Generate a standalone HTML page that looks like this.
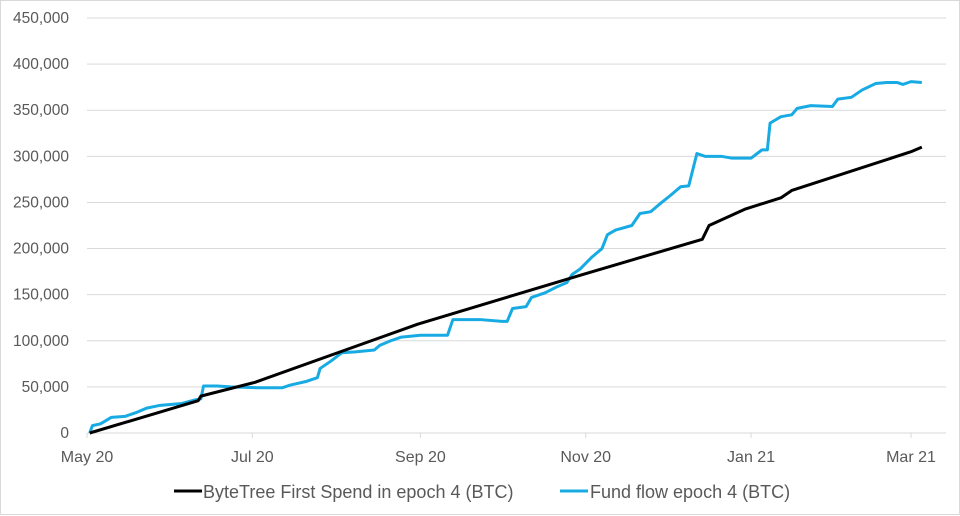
<!DOCTYPE html>
<html><head><meta charset="utf-8"><style>
html,body{margin:0;padding:0;background:#fff;}
#wrap{position:relative;width:958px;height:513px;border:1px solid #d9d9d9;}
svg{position:absolute;left:0;top:0;}
text{font-family:"Liberation Sans",sans-serif;fill:#595959;}
</style></head><body>
<div id="wrap">
<svg id="chart" width="960" height="515"></svg>
</div>
<script>
const yTicks = [0,50000,100000,150000,200000,250000,300000,350000,400000,450000];
const xTickLabels = ["May 20","Jul 20","Sep 20","Nov 20","Jan 21","Mar 21"];
const xTickDays = [0,61,123,184,245,304];
const byteTreeDays = [1,41,42,62,122,183,227,229.5,243,256,260,304,308];
const byteTreeVals = [0,35000,40000,55000,118000,172000,210000,225000,243000,255000,263000,305000,310000];
const fundDays = [1,2,5,9,14,18,22,27,35,40,42,43,48,53,64,72,75,81,85,86,90,94,99,106,108,112,116,123,133,135,145,153,155,157,162,164,169,173,177,179,182,186,190,192,195,201,204,208,212,215,219,222,225,228,234,238,245,249,251,252,256,260,262,267,275,277,282,286,291,295,299,301,304,308];
const fundVals = [0,8000,10000,17000,18000,22000,27000,30000,32000,36000,37000,51000,51000,50000,49000,49000,52000,56000,60000,70000,78000,87000,88000,90000,95000,100000,104000,106000,106000,123000,123000,121000,121000,135000,137000,147000,152000,158000,163000,172000,178000,190000,200000,215000,220000,225000,238000,240000,250000,257000,267000,268000,303000,300000,300000,298000,298000,307000,307000,336000,343000,345000,352000,355000,354000,362000,364000,372000,379000,380000,380000,378000,381000,380000];

const NS="http://www.w3.org/2000/svg";
const svg=document.getElementById('chart');
const X0=86, PXD=824/304, Y0=432, YS=415/450000, XR=945;
const xs=d=>X0+d*PXD, ys=v=>Y0-v*YS;
function mk(t,a){const e=document.createElementNS(NS,t);for(const k in a)e.setAttribute(k,a[k]);svg.appendChild(e);return e;}
yTicks.forEach((v,i)=>{
  const g=mk('line',{x1:X0,x2:XR,y1:ys(v),y2:ys(v),stroke:'#d9d9d9','stroke-width':1});
  
  
  const t=mk('text',{x:68,y:ys(v)+5,'text-anchor':'end','font-size':15.5});
  t.textContent=v.toLocaleString('en-US');
  
  
});
xTickLabels.forEach((l,i)=>{
  const x=xs(xTickDays[i]);
  const tk=mk('line',{x1:x,x2:x,y1:Y0,y2:Y0+5,stroke:'#d9d9d9'});
  
  
  const t=mk('text',{x:x,y:461,'text-anchor':'middle','font-size':16});
  t.textContent=l;
  
  
});
function series(days,vals,color,name){
  const p=mk('polyline',{points:days.map((d,i)=>xs(d)+','+ys(vals[i])).join(' '),fill:'none',stroke:color,'stroke-width':3,'stroke-linejoin':'round'});
  
  
}
series(fundDays,fundVals,'#18abe3','fund-flow-line');
series(byteTreeDays,byteTreeVals,'#000','bytetree-first-spend-line');
const l1=mk('line',{x1:173,x2:201,y1:490,y2:490,stroke:'#000','stroke-width':3});


const t1=mk('text',{x:202,y:497,'font-size':18});
t1.textContent='ByteTree First Spend in epoch 4 (BTC)';


const l2=mk('line',{x1:559,x2:587,y1:490,y2:490,stroke:'#18abe3','stroke-width':3});


const t2=mk('text',{x:589,y:497,'font-size':18});
t2.textContent='Fund flow epoch 4 (BTC)';


</script>
</body></html>
